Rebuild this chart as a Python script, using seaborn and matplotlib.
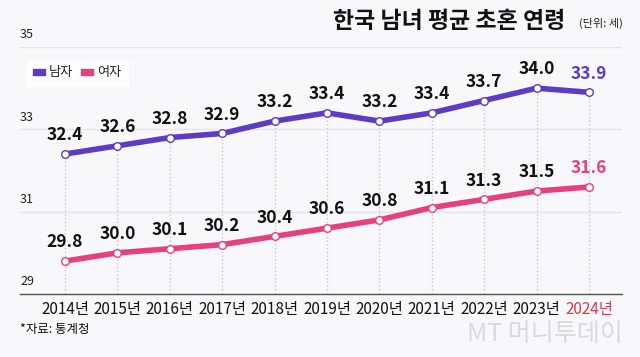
import matplotlib
matplotlib.use("Agg")
import matplotlib.pyplot as plt
import matplotlib.transforms as mtransforms
import seaborn as sns
import pandas as pd
from matplotlib.patches import Patch

years = [2014, 2015, 2016, 2017, 2018, 2019, 2020, 2021, 2022, 2023, 2024]
male = [32.4, 32.6, 32.8, 32.9, 33.2, 33.4, 33.2, 33.4, 33.7, 34.0, 33.9]
female = [29.8, 30.0, 30.1, 30.2, 30.4, 30.6, 30.8, 31.1, 31.3, 31.5, 31.6]
xlabels = [f"{y}년" for y in years]
yticks = [29, 31, 33, 35]
series_names = ["남자", "여자"]

sns.set_theme(style="white")
plt.rcParams['font.family'] = ['Noto Sans CJK KR', 'DejaVu Sans']

BG = "#f8f8fb"
C_M = "#5b3cc4"
C_F = "#e8407e"

df = pd.DataFrame({
    "year": years * 2,
    "age": male + female,
    "sex": [series_names[0]] * len(years) + [series_names[1]] * len(years),
})

fig = plt.figure(figsize=(6.4, 3.57), dpi=100, facecolor=BG)
ax = fig.add_axes([20/640, 1 - 294/357, 602/640, 247/357])
ax.set_facecolor(BG)

# vertical dotted guides
ax.vlines(years, 29, male, colors="#c8c8cc", linestyles=(0, (1.2, 1.8)), linewidth=0.9, zorder=1)

sns.lineplot(data=df, x="year", y="age", hue="sex", palette=[C_M, C_F],
             linewidth=4, ax=ax, legend=False, zorder=3)
for vals, c in [(male, C_M), (female, C_F)]:
    ax.scatter(years, vals, s=30, facecolor="white", edgecolor=c, linewidth=1.0, zorder=4)

ax.set_xlim(2013.14, 2024.63)
ax.set_ylim(29, 35)
ax.set_yticks(yticks)
ax.set_yticklabels([])
ax.tick_params(axis="y", length=0)
ax.grid(axis="y", color="#e4e4e8", linewidth=1)
ax.set_axisbelow(True)
for s in ["top", "right", "left"]:
    ax.spines[s].set_visible(False)
ax.spines["bottom"].set_color("#555555")
ax.spines["bottom"].set_linewidth(1)
ax.set_xlabel("")
ax.set_ylabel("")
ax.set_xticks(years)
ax.set_xticklabels(xlabels, fontsize=11)
ax.tick_params(axis="x", length=0, pad=5)
for i, t in enumerate(ax.get_xticklabels()):
    t.set_color("#d63a4a" if i == len(years) - 1 else "#111111")

# y tick labels above grid lines
trans = mtransforms.blended_transform_factory(ax.transAxes, ax.transData)
yoff = mtransforms.ScaledTranslation(0, 4/72, fig.dpi_scale_trans)
for v in yticks:
    ax.text(0.0, v, str(v), transform=trans + yoff, fontsize=9, color="#222222",
            ha="left", va="bottom")

# data labels
off = mtransforms.ScaledTranslation(0, 7/72, fig.dpi_scale_trans)
for vals, c in [(male, C_M), (female, C_F)]:
    for i, (x, v) in enumerate(zip(years, vals)):
        col = c if i == len(years) - 1 else "#111111"
        ax.text(x, v, f"{v:.1f}", fontsize=12.5, fontweight="bold", color=col,
                ha="center", va="bottom", transform=ax.transData + off, zorder=5)

# legend
handles = [Patch(color=C_M, label=series_names[0]), Patch(color=C_F, label=series_names[1])]
leg = ax.legend(handles=handles, loc="upper left", bbox_to_anchor=(0.0, 0.975),
                ncol=2, frameon=True, fontsize=9.5, handlelength=0.9, handleheight=0.35,
                handletextpad=0.3, columnspacing=0.6, borderpad=0.5, fancybox=False)
leg.get_frame().set_facecolor("white")
leg.get_frame().set_edgecolor("white")

# title
fig.text(565/640, 1 - 22/357, "한국 남녀 평균 초혼 연령", fontsize=16.5, fontweight="bold",
         ha="right", va="center", color="#111111")
fig.text(623/640, 1 - 23/357, "(단위: 세)", fontsize=8, ha="right", va="center", color="#222222")

# source and watermark
fig.text(20/640, 1 - 330/357, "*자료: 통계청", fontsize=9, ha="left", va="center", color="#111111")
fig.text(623/640, 1 - 334/357, "MT 머니투데이", fontsize=18, ha="right", va="center",
         color="#dadade", fontweight="light")

fig.savefig("out.png", dpi=100, facecolor=BG)
